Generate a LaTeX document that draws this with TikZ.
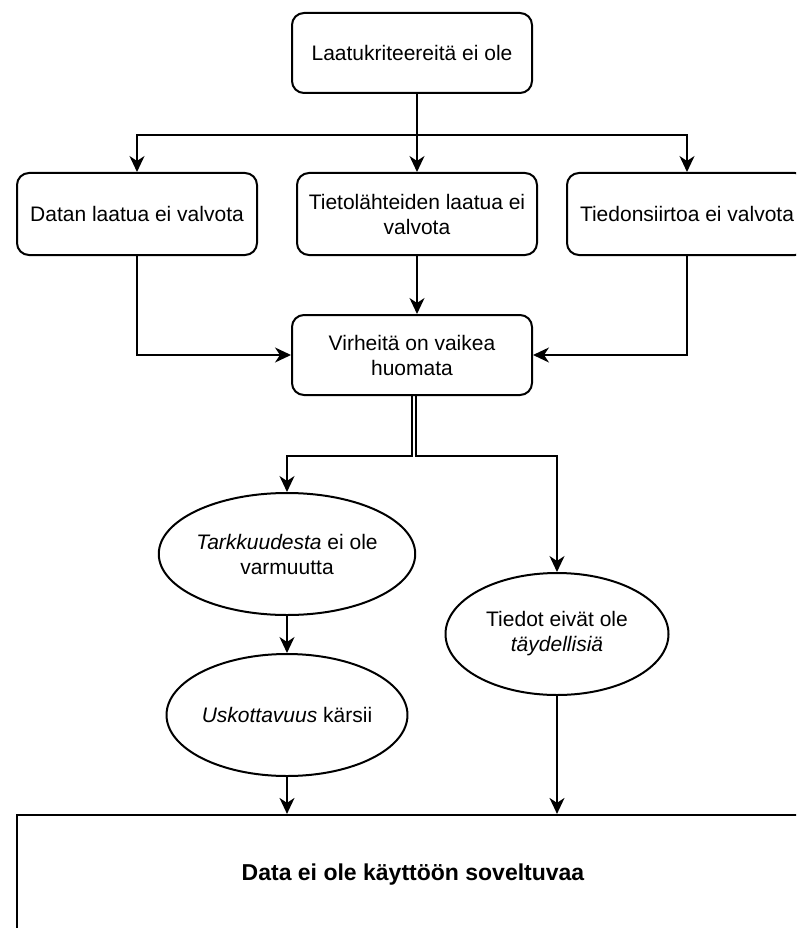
\documentclass[tikz,border=0pt]{standalone}
\usepackage{fontspec}
\setmainfont{Liberation Sans}
\usetikzlibrary{arrows.meta,shapes.geometric}

\begin{document}
\begin{tikzpicture}[x=1pt,y=-1pt,
  every node/.style={font=\fontsize{21}{25}\selectfont},
  box/.style={draw, rounded corners=12pt, line width=2pt, minimum width=240pt,
    minimum height=82pt, align=center, inner sep=4pt},
  oval/.style={draw, ellipse, line width=2pt, minimum width=223pt,
    minimum height=122pt, align=center, inner sep=0pt},
  resultbox/.style={draw, line width=2.2pt, minimum width=792pt, minimum height=120pt,
    align=center, font=\fontsize{23}{27}\selectfont\bfseries},
  flow/.style={line width=2pt, -{Stealth[length=16pt,width=15pt,inset=5pt]}},
]
\useasboundingbox (0,0) rectangle (796,928);
\clip (0,0) rectangle (796,928);

% Cause chain
\node[box, minimum height=80pt] (top) at (412,53) {Laatukriteereitä ei ole};
\node[box] (left)  at (137,214) {Datan laatua ei valvota};
\node[box] (mid)   at (417,214) {Tietolähteiden laatua ei\\valvota};
\node[box] (right) at (687,214) {Tiedonsiirtoa ei valvota};
\node[box, minimum height=80pt] (virh) at (412,355) {Virheitä on vaikea\\huomata};

% Consequences
\node[oval] (e1) at (287,554) {\textit{Tarkkuudesta} ei ole\\varmuutta};
\node[oval] (e2) at (287,715) {\textit{Uskottavuus} kärsii};
\node[oval] (e3) at (557,634) {Tiedot eivät ole\\\textit{täydellisiä}};

\node[resultbox] (out) at (413,875) {Data ei ole käyttöön soveltuvaa};

% Branching from the top box
\coordinate (hub) at (417,135);
\draw[flow] (top.south -| hub) -- (hub) -| (left.north);
\draw[flow] (top.south -| hub) -- (mid.north);
\draw[flow] (top.south -| hub) -- (hub) -| (right.north);

% Into the central box
\draw[flow] (left.south) |- (virh.west);
\draw[flow] (mid.south) -- (mid.south |- virh.north);
\draw[flow] (right.south) |- (virh.east);

% Out of the central box
\draw[flow] (virh.south) -- ++(0,60) -| (e1.north);
\draw[flow] ([xshift=4pt]virh.south) -- ++(0,60) -| (e3.north);

\draw[flow] (e1.south) -- (e2.north);
\draw[flow] (e2.south) -- (e2.south |- out.north);
\draw[flow] (e3.south) -- (e3.south |- out.north);
\end{tikzpicture}
\end{document}
